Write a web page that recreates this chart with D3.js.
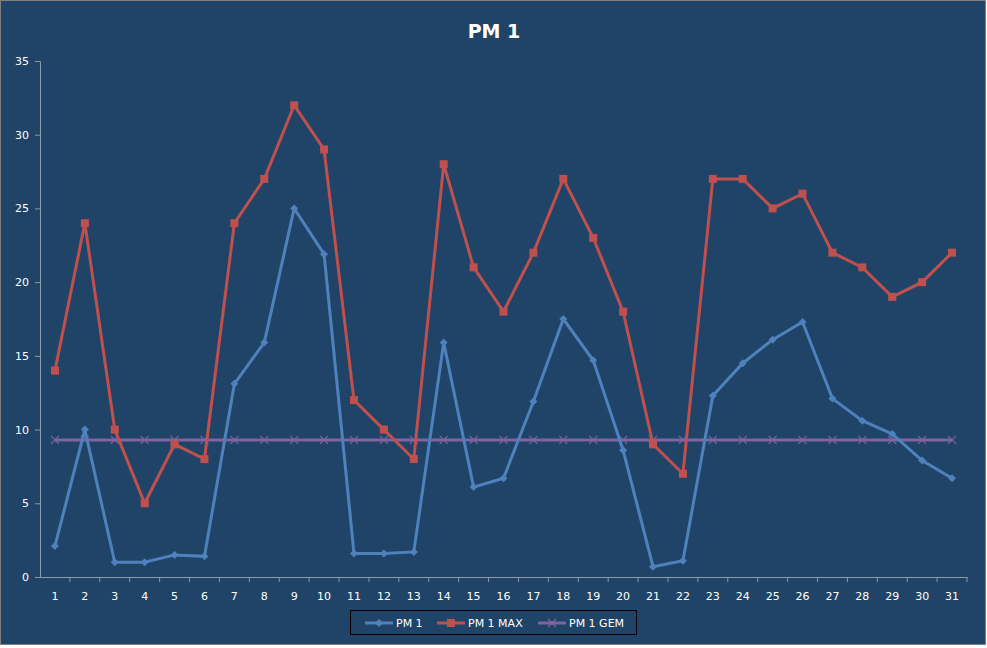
<!DOCTYPE html>
<html>
<head>
<meta charset="UTF-8">
<script src="https://d3js.org/d3.v7.min.js"></script>
<style>
 body { margin: 0; background: #fff; }
 text { font-family: "DejaVu Sans", sans-serif; fill: #fff; }
</style>
</head>
<body>
<svg class="chart"></svg>
<script>
var days = d3.range(1, 32);
var pm1 = [2.1, 10, 1, 1, 1.5, 1.4, 13.1, 15.9, 25, 21.9, 1.6, 1.6, 1.7, 15.9, 6.1, 6.7,
           11.9, 17.5, 14.7, 8.6, 0.7, 1.1, 12.3, 14.5, 16.1, 17.3, 12.1, 10.6, 9.7, 7.9, 6.7];
var pm1Max = [14, 24, 10, 5, 9, 8, 24, 27, 32, 29, 12, 10, 8, 28, 21, 18, 22, 27, 23, 18,
              9, 7, 27, 27, 25, 26, 22, 21, 19, 20, 22];
var pm1Gem = [9.3, 9.3, 9.3, 9.3, 9.3, 9.3, 9.3, 9.3, 9.3, 9.3, 9.3, 9.3, 9.3, 9.3, 9.3, 9.3,
              9.3, 9.3, 9.3, 9.3, 9.3, 9.3, 9.3, 9.3, 9.3, 9.3, 9.3, 9.3, 9.3, 9.3, 9.3];
var yTicks = [0, 5, 10, 15, 20, 25, 30, 35];

var width = 987, height = 648;
var svg = d3.select(".chart").attr("width", width).attr("height", height);

svg.append("rect").attr("x", 0.5).attr("y", 0.5).attr("width", width - 2).attr("height", height - 4)
   .attr("fill", "#1f4467").attr("stroke", "#7f7f7f");

svg.append("text").attr("x", 494).attr("y", 38).attr("text-anchor", "middle")
   .attr("font-size", 19).attr("font-weight", "bold").text("PM 1");

var x = d3.scaleBand().domain(days).range([40, 967]);
var y = d3.scaleLinear().domain([0, 35]).range([577, 61]);
var cx = function(d, i) { return x(days[i]) + x.bandwidth() / 2; };

var axisColor = "#8c9aa8";
var yAxis = svg.append("g").attr("transform", "translate(40,0)")
   .call(d3.axisLeft(y).tickValues(yTicks).tickSize(5).tickPadding(6));
var xAxis = svg.append("g").attr("transform", "translate(0,577)")
   .call(d3.axisBottom(x).tickSize(0).tickPadding(15));
xAxis.selectAll(".tick").append("line").attr("x1", x.bandwidth() / 2).attr("x2", x.bandwidth() / 2)
   .attr("y2", 5).attr("stroke", axisColor);
[yAxis, xAxis].forEach(function(a) {
  a.selectAll("path, line").attr("stroke", axisColor);
  a.selectAll("text").attr("font-size", 11).attr("fill", "#fff");
});

var line = d3.line().x(cx).y(function(d) { return y(d); });

var series = [
  {name: "PM 1", data: pm1, color: "#4f81bd", marker: "diamond"},
  {name: "PM 1 MAX", data: pm1Max, color: "#c0504d", marker: "square"},
  {name: "PM 1 GEM", data: pm1Gem, color: "#8064a2", marker: "x"}
];

function marker(g, type, color) {
  if (type === "diamond") g.append("path").attr("d", "M0,-4L4,0L0,4L-4,0Z").attr("fill", color);
  else if (type === "square") g.append("rect").attr("x", -4).attr("y", -4).attr("width", 8).attr("height", 8).attr("fill", color);
  else g.append("path").attr("d", "M-4,-4L4,4M-4,4L4,-4").attr("stroke", color).attr("stroke-width", 1.2);
}

series.slice().reverse().forEach(function(s) {
  svg.append("path").datum(s.data).attr("d", line).attr("fill", "none")
     .attr("stroke", s.color).attr("stroke-width", 3);
  svg.append("g").selectAll("g").data(s.data).enter().append("g")
     .attr("transform", function(d, i) { return "translate(" + cx(d, i) + "," + y(d) + ")"; })
     .each(function() { marker(d3.select(this), s.marker, s.color); });
});

// legend
var lg = svg.append("g");
lg.append("rect").attr("x", 350.5).attr("y", 610.5).attr("width", 286).attr("height", 24)
  .attr("fill", "none").attr("stroke", "#000");
var lx = [365, 437, 538];
series.forEach(function(s, i) {
  var g = lg.append("g").attr("transform", "translate(" + lx[i] + ",623)");
  g.append("line").attr("x1", 0).attr("x2", 28).attr("stroke", s.color).attr("stroke-width", 3);
  var m = g.append("g").attr("transform", "translate(14,0)");
  marker(m, s.marker, s.color);
  g.append("text").attr("x", 31).attr("y", 4).attr("font-size", 11).text(s.name);
});
</script>
</body>
</html>
